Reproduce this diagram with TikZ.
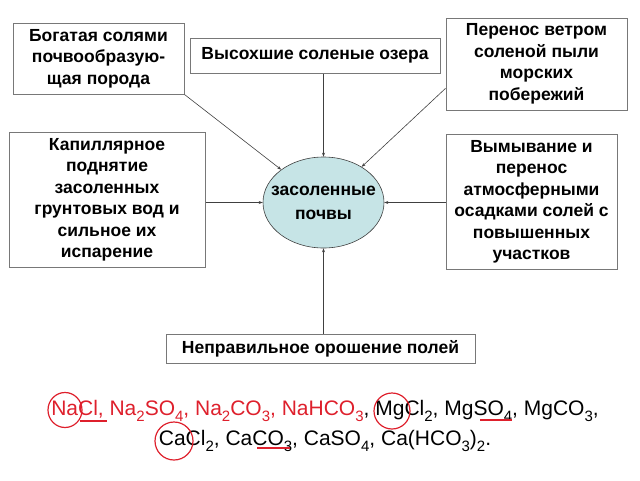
\documentclass[tikz,border=0pt]{standalone}
\usepackage{fontspec}
\setmainfont{Liberation Sans}
\usepackage{tikz}
\usetikzlibrary{shapes,arrows.meta}
\definecolor{boxline}{RGB}{120,120,120}
\definecolor{soilfill}{RGB}{198,228,230}
\definecolor{markred}{RGB}{222,32,44}
\tikzset{box/.style={rectangle,draw=boxline,line width=1pt,align=center,inner sep=2pt,
    font=\bfseries\fontsize{17.5}{21.5}\selectfont},
  ell/.style={ellipse,draw=black!75,fill=soilfill,line width=0.6pt,inner sep=0pt,
    minimum width=121pt,minimum height=91pt},
  ellfont/.style={align=center,font=\bfseries\fontsize{17.5}{24}\selectfont},
  redmark/.style={markred,line width=1.2pt}}
\newcommand\ix[1]{\raisebox{-5.5pt}{\fontsize{15}{15}\selectfont #1}}

\begin{document}
\begin{tikzpicture}[x=1pt,y=-1pt,>={Stealth[length=4pt,width=3pt]}]
    \useasboundingbox (0,0) rectangle (640,480);
    \node[ell,label={[ellfont]center:засоленные\\почвы}] (soil) at (323.5,202.5) {};
    \node[box,minimum width=171pt,minimum height=71pt] (rock) at (98.5,58.5) {Богатая солями\\почвообразую-\\щая порода};
    \node[box,minimum width=250pt,minimum height=35pt] (lakes) at (315,55.5) {Высохшие соленые озера};
    \node[box,minimum width=181pt,minimum height=92pt] (wind) at (536.5,64) {Перенос ветром\\соленой пыли\\морских\\побережий};
    \node[box,minimum width=196pt,minimum height=135pt] (capil) at (107,200) {Капиллярное\\поднятие\\засоленных\\грунтовых вод и\\сильное их\\испарение};
    \node[box,minimum width=171pt,minimum height=135pt] (wash) at (531.5,202) {Вымывание и\\перенос\\атмосферными\\осадками солей с\\повышенных\\участков};
    \node[box,minimum width=309pt,minimum height=29pt] (irrig) at (320.5,348.5) {Неправильное орошение полей};

    \draw [->,black!75,line width=0.6pt] (rock.south east) to (soil);
    \draw [->,black!75,line width=0.6pt] (soil.north |- lakes.south) to (soil.north);
    \draw [->,black!75,line width=0.6pt] (wind.-165) to (soil);
    \draw [->,black!75,line width=0.6pt] (capil.east |- soil) to (soil.west);
    \draw [->,black!75,line width=0.6pt] (wash.west |- soil) to (soil.east);
    \draw [->,black!75,line width=0.6pt] (soil.south |- irrig.north) to (soil.south);

    % salts
    \node[align=center,font=\fontsize{21}{30}\selectfont,inner sep=0pt] (salts) at (325,426)
      {{\color{markred}NaCl, Na\ix{2}SO\ix{4}, Na\ix{2}CO\ix{3}, NaHCO\ix{3}}, MgCl\ix{2}, MgSO\ix{4}, MgCO\ix{3},\\
       CaCl\ix{2}, CaCO\ix{3}, CaSO\ix{4}, Ca(HCO\ix{3})\ix{2}.};
    \draw [redmark] (65,410) ellipse (17pt and 17.5pt);
    \draw [redmark] (174,441) circle (19pt);
    \draw [redmark] (392,411) circle (18pt);
    \draw [redmark] (80,421) -- (107,421);
    \draw [redmark] (257,448) -- (290,448);
    \draw [redmark] (480,420) -- (512,420);
\end{tikzpicture}
\end{document}
